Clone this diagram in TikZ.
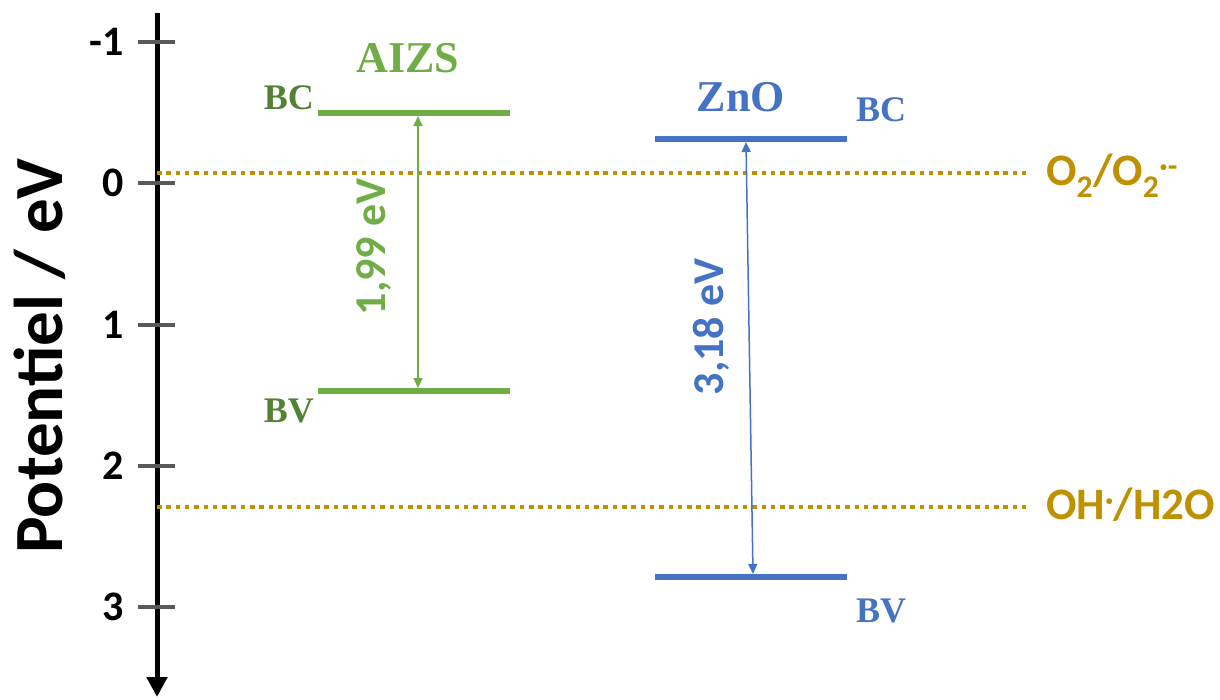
\documentclass[tikz,border=0pt]{standalone}
\usepackage{fontspec}
\setmainfont{Liberation Serif}
\newfontfamily\calfont{Carlito}
\usetikzlibrary{arrows.meta}
\definecolor{gold}{RGB}{191,144,0}
\definecolor{aizsgreen}{RGB}{112,173,71}
\definecolor{labgreen}{RGB}{84,130,53}
\definecolor{znoblue}{RGB}{68,114,196}
\definecolor{tickgray}{RGB}{89,89,89}
\begin{document}
\begin{tikzpicture}[x=1pt,y=-1pt,
  ticklabel/.style={anchor=east,inner sep=0pt,font=\calfont\bfseries\fontsize{42}{42}\selectfont},
  tickmark/.style={draw=tickgray,line width=4pt},
  redox/.style={draw=gold,line width=4.5pt,dash pattern=on 4.5pt off 4.8pt},
  redoxlabel/.style={anchor=west,inner sep=0pt,text=gold,font=\calfont\bfseries\fontsize{45}{45}\selectfont},
  bandg/.style={draw=aizsgreen,line width=6pt},
  bandb/.style={draw=znoblue,line width=6pt},
  bandlabel/.style={inner sep=0pt,font=\bfseries\fontsize{36}{36}\selectfont},
  mattitle/.style={inner sep=0pt,font=\bfseries\fontsize{44}{44}\selectfont},
  gaparrow/.style={line width=1.5pt,{Triangle[width=9pt,length=10pt]}-{Triangle[width=9pt,length=10pt]}},
  gaplabel/.style={inner sep=0pt,anchor=base,rotate=90,font=\calfont\bfseries\fontsize{44}{44}\selectfont}]
\useasboundingbox (0,0) rectangle (1220,699);
% axis
\coordinate (axtop) at (157,13);
\coordinate (axbot) at (157,697);
\draw[line width=5pt,-{Triangle[width=20pt,length=20pt]}] (axtop) -- (axbot);
\node[rotate=90,anchor=base,inner sep=0pt,font=\calfont\bfseries\fontsize{69}{69}\selectfont] (axlabel) at (62,356) {Potentiel / eV};
% ticks
\foreach \v/\y in {-1/42,0/183,1/325,2/466,3/607}{
  \draw[tickmark] (138,\y) -- (175,\y);
  \node[ticklabel] (t\v) at (124,\y) {\v};
}
% redox lines
\coordinate (o2a) at (157,173);
\coordinate (o2b) at (1030,173);
\coordinate (oha) at (157,507);
\coordinate (ohb) at (1030,507);
\draw[redox] (o2a) -- (o2b);
\draw[redox] (oha) -- (ohb);
\node[redoxlabel] (o2lab) at (1046,176) {O\textsubscript{2}/O\textsubscript{2}\textsuperscript{·-}};
\node[redoxlabel] (ohlab) at (1046,505) {OH\textsuperscript{·}/H2O};
% AIZS
\coordinate (gbcL) at (318,113);
\coordinate (gbcR) at (510,113);
\coordinate (gbvL) at (318,391);
\coordinate (gbvR) at (510,391);
\draw[bandg] (gbcL) -- (gbcR);
\draw[bandg] (gbvL) -- (gbvR);
\node[mattitle,text=aizsgreen] (aizs) at (408,58) {AIZS};
\node[bandlabel,text=labgreen,anchor=east] (gbc) at (314,98) {BC};
\node[bandlabel,text=labgreen,anchor=east] (gbv) at (314,411) {BV};
\coordinate (ga1) at (418,116);
\coordinate (ga2) at (418,388);
\draw[gaparrow,draw=aizsgreen,fill=aizsgreen] (ga1) -- (ga2);
\node[gaplabel,text=aizsgreen] (ggap) at (385,247) {1,99 eV};
% ZnO
\coordinate (bbcL) at (655,139);
\coordinate (bbcR) at (847,139);
\coordinate (bbvL) at (655,577);
\coordinate (bbvR) at (847,577);
\draw[bandb] (bbcL) -- (bbcR);
\draw[bandb] (bbvL) -- (bbvR);
\node[mattitle,text=znoblue] (zno) at (741,97) {ZnO};
\node[bandlabel,text=znoblue,anchor=west] (bbc) at (856,110) {BC};
\node[bandlabel,text=znoblue,anchor=west] (bbv) at (856,611) {BV};
\coordinate (ba1) at (746,142);
\coordinate (ba2) at (753,574);
\draw[gaparrow,draw=znoblue,fill=znoblue] (ba1) -- (ba2);
\node[gaplabel,text=znoblue] (bgap) at (723,327) {3,18 eV};
\end{tikzpicture}
\end{document}
